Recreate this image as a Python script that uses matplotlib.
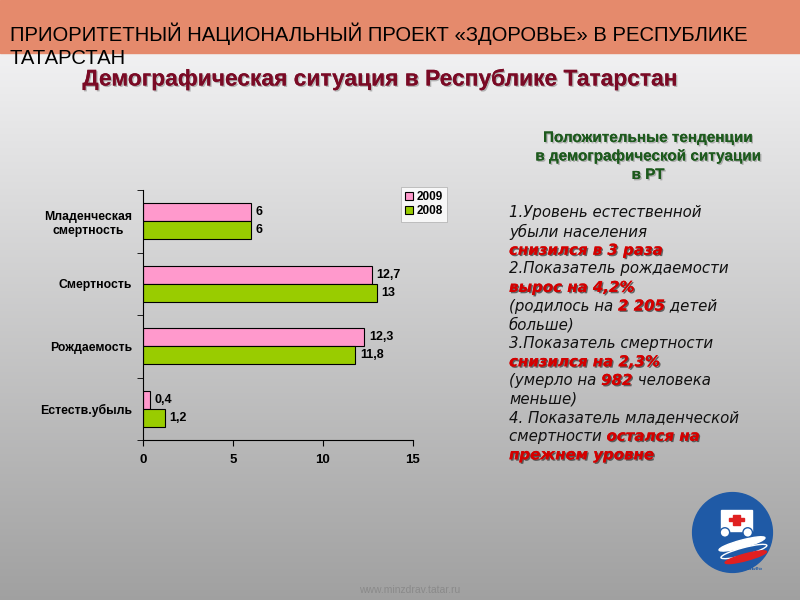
import numpy as np
import matplotlib
matplotlib.use('Agg')
import matplotlib.pyplot as plt
import matplotlib.patheffects as pe
from matplotlib.patches import Rectangle, Circle, Ellipse

plt.rcParams['font.family'] = ['Liberation Sans', 'DejaVu Sans']

# data
categories = ['Младенческая\nсмертность', 'Смертность', 'Рождаемость', 'Естеств.убыль']
vals_2009 = [6, 12.7, 12.3, 0.4]
vals_2008 = [6, 13, 11.8, 1.2]
lab_2009 = ['6', '12,7', '12,3', '0,4']
lab_2008 = ['6', '13', '11,8', '1,2']
xticks = [0, 5, 10, 15]

fig = plt.figure(figsize=(8, 6), dpi=100)

# background gradient
bg = fig.add_axes([0, 0, 1, 1], zorder=-10)
grad = np.linspace(0, 1, 256).reshape(-1, 1)
top_c = np.array([0.975, 0.975, 0.98])
bot_c = np.array([0.63, 0.63, 0.63])
img = top_c + (bot_c - top_c) * grad[:, :, None]
bg.imshow(img, aspect='auto', extent=[0, 1, 0, 1])
bg.add_patch(Rectangle((0, 1 - 53 / 600), 1, 53 / 600, color='#e58a6c', zorder=2))
bg.set_xlim(0, 1)
bg.set_ylim(0, 1)
bg.axis('off')

# header texts
fig.text(10 / 800, 1 - 34 / 600, 'ПРИОРИТЕТНЫЙ НАЦИОНАЛЬНЫЙ ПРОЕКТ «ЗДОРОВЬЕ» В РЕСПУБЛИКЕ',
         fontsize=14.6, color='black', va='center', ha='left')
fig.text(10 / 800, 1 - 59 / 600, 'ТАТАРСТАН',
         fontsize=14.6, color='black', va='center', ha='left')
fig.text(380 / 800, 1 - 79 / 600, 'Демографическая ситуация в Республике Татарстан',
         fontsize=16.4, color='#7a0a25', weight='bold', ha='center', va='center',
         path_effects=[pe.withSimplePatchShadow(offset=(1, -1), shadow_rgbFace='#777777', alpha=0.5), pe.Normal()])

# bar chart
ax = fig.add_axes([143 / 800, 1 - 440 / 600, 270 / 800, 250 / 600])
ax.patch.set_alpha(0)
y = np.arange(len(categories))[::-1]
h = 0.29
ax.barh(y + h / 2, vals_2009, height=h, color='#ff99cc', edgecolor='black', linewidth=0.8, label='2009')
ax.barh(y - h / 2, vals_2008, height=h, color='#99cc00', edgecolor='black', linewidth=0.8, label='2008')
for yi, v, t in zip(y, vals_2009, lab_2009):
    ax.text(v + 0.25, yi + h / 2, t, va='center', ha='left', fontsize=9, weight='bold')
for yi, v, t in zip(y, vals_2008, lab_2008):
    ax.text(v + 0.25, yi - h / 2, t, va='center', ha='left', fontsize=9, weight='bold')
ax.set_xlim(0, 15)
ax.set_ylim(-0.5, 3.5)
ax.set_xticks(xticks)
ax.set_xticklabels([str(x) for x in xticks], fontsize=9.5, weight='bold')
ax.set_yticks(y)
ax.set_yticklabels(categories, fontsize=8.8, weight='bold')
ax.set_yticks(np.arange(-0.5, 4, 1), minor=True)
ax.tick_params(axis='y', which='major', length=0, pad=8)
ax.tick_params(axis='y', which='minor', length=4, direction='out')
ax.tick_params(axis='x', length=4, direction='out', pad=6)
for lbl in ax.get_yticklabels():
    lbl.set_multialignment('center')
ax.spines['top'].set_visible(False)
ax.spines['right'].set_visible(False)
leg = ax.legend(loc='upper left', bbox_to_anchor=(401 / 800, 1 - 187 / 600), bbox_transform=fig.transFigure,
                fontsize=8.5, frameon=True, fancybox=False, handlelength=0.7, handleheight=0.7,
                handletextpad=0.3, borderpad=0.35, labelspacing=0.2, borderaxespad=0)
leg.get_frame().set_edgecolor('#aaaaaa')
leg.get_frame().set_linewidth(0.6)
for t in leg.get_texts():
    t.set_weight('bold')

# right-side text
shadow_g = [pe.withSimplePatchShadow(offset=(1, -1), shadow_rgbFace='#888888', alpha=0.6), pe.Normal()]
for i, line in enumerate(['Положительные тенденции', 'в демографической ситуации', 'в РТ']):
    fig.text(648 / 800, 1 - (138 + i * 18.5) / 600, line, ha='center', va='center', fontsize=11,
             weight='bold', color='#1d5a1d', path_effects=shadow_g)

shadow_r = [pe.withSimplePatchShadow(offset=(1, -1), shadow_rgbFace='#333333', alpha=0.7), pe.Normal()]
body = [
    [('1.Уровень естественной', 0)],
    [('убыли населения', 0)],
    [('снизился в 3 раза', 1)],
    [('2.Показатель рождаемости', 0)],
    [('вырос на 4,2%', 1)],
    [('(родилось на ', 0), ('2 205', 1), (' детей', 0)],
    [('больше)', 0)],
    [('3.Показатель смертности', 0)],
    [('снизился на 2,3%', 1)],
    [('(умерло на ', 0), ('982', 1), (' человека', 0)],
    [('меньше)', 0)],
    [('4. Показатель младенческой', 0)],
    [('смертности ', 0), ('остался на', 1)],
    [('прежнем уровне', 1)],
]
fig.canvas.draw()
renderer = fig.canvas.get_renderer()
for i, parts in enumerate(body):
    x = 509
    ypix = 213 + i * 18.6
    for txt, red in parts:
        if red:
            t = fig.text(x / 800, 1 - ypix / 600, txt, ha='left', va='center', fontsize=10.8,
                         style='italic', weight='bold', color='#d40000', path_effects=shadow_r,
                         family=['DejaVu Sans'])
        else:
            t = fig.text(x / 800, 1 - ypix / 600, txt, ha='left', va='center', fontsize=10.8,
                         style='italic', color='#111111', family=['DejaVu Sans'])
        bb = t.get_window_extent(renderer)
        x = x + bb.width

# logo approximation
lg = fig.add_axes([685 / 800, 1 - 580 / 600, 95 / 800, 95 / 600])
lg.set_xlim(0, 1)
lg.set_ylim(0, 1)
lg.axis('off')
lg.add_patch(Circle((0.5, 0.5), 0.42, color='#1f5aa6'))
lg.add_patch(Rectangle((0.38, 0.52), 0.32, 0.22, color='white'))
lg.add_patch(Rectangle((0.5, 0.58), 0.08, 0.1, color='#e02020'))
lg.add_patch(Rectangle((0.46, 0.62), 0.16, 0.03, color='#e02020'))
lg.add_patch(Circle((0.42, 0.5), 0.05, color='white', ec='#1f5aa6'))
lg.add_patch(Circle((0.66, 0.5), 0.05, color='white', ec='#1f5aa6'))
lg.add_patch(Ellipse((0.6, 0.38), 0.5, 0.08, angle=15, color='white'))
lg.add_patch(Ellipse((0.62, 0.3), 0.5, 0.08, angle=15, color='#1f5aa6', ec='white'))
lg.add_patch(Ellipse((0.64, 0.24), 0.45, 0.07, angle=15, color='#e02020'))
lg.text(0.62, 0.12, '«Здоровье»', fontsize=4.5, color='#1f5aa6', weight='bold', ha='center', va='center')

fig.text(410 / 800, 1 - 590 / 600, 'www.minzdrav.tatar.ru', fontsize=7.5, color='#8a8a8a',
         ha='center', va='center')

fig.savefig('out.png', dpi=100)
